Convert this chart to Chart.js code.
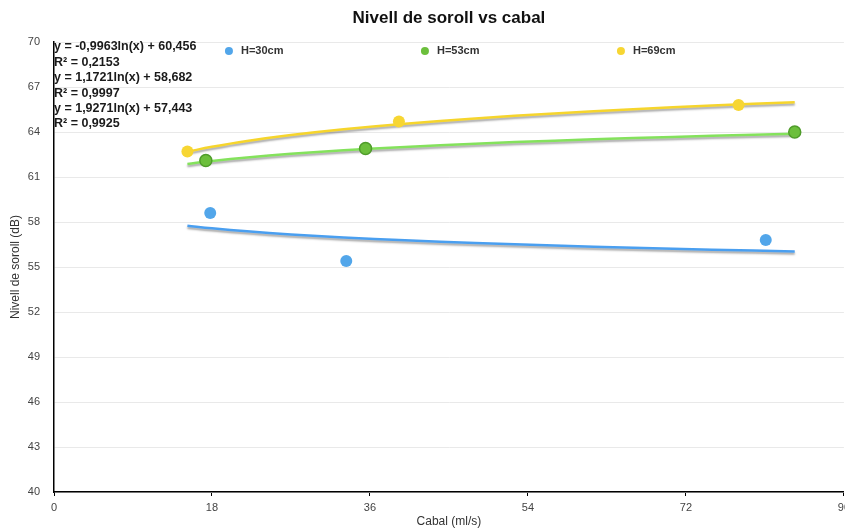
<!DOCTYPE html>
<html>
<head>
<meta charset="utf-8">
<script src="https://cdn.jsdelivr.net/npm/chart.js@4"></script>
<style>
  html, body { margin: 0; padding: 0; background: #fff; overflow: hidden; }
  #wrap { width: 845px; height: 529px; overflow: hidden; }
</style>
</head>
<body>
<div id="wrap"><canvas id="noiseChart" width="855" height="529"></canvas></div>
<script>
// measured points (x = cabal ml/s, y = nivell dB)
const flowH30 = [17.8, 33.3, 81.1];
const noiseH30 = [58.6, 55.4, 56.8];
const flowH53 = [17.3, 35.5, 84.4];
const noiseH53 = [62.1, 62.9, 64.0];
const flowH69 = [15.2, 39.3, 78.0];
const noiseH69 = [62.7, 64.7, 65.8];

const seriesLabels = ['H=30cm', 'H=53cm', 'H=69cm'];

// log trendlines y = a ln(x) + b, as printed on the chart
const trendA = [-0.9963, 1.1721, 1.9271];
const trendB = [60.456, 58.682, 57.443];
const trendR2 = [0.2153, 0.9997, 0.9925];
const trendSampleX = [15.2, 18, 22, 27, 33, 40, 48, 57, 66, 75, 84.4];

const xTicks = [0, 18, 36, 54, 72, 90];
const yTicks = [40, 43, 46, 49, 52, 55, 58, 61, 64, 67, 70];

const chartTitle = 'Nivell de soroll vs cabal';
const FONT = '"Liberation Sans", Arial, Helvetica, sans-serif';

const pointColors = ['#52a6ea', '#6cbf3c', '#f7d633'];
const pointBorders = ['#52a6ea', '#4f9c2a', '#f3d02a'];
const lineColors = ['#4a9ff0', '#84e25c', '#f6d52c'];

const toPoints = (xs, ys) => xs.map((x, i) => ({ x: x, y: ys[i] }));
const trendPoints = i => trendSampleX.map(x => ({ x: x, y: trendA[i] * Math.log(x) + trendB[i] }));
const comma = (v, d) => v.toFixed(d).replace('.', ',');

const pointSets = [toPoints(flowH30, noiseH30), toPoints(flowH53, noiseH53), toPoints(flowH69, noiseH69)];

const datasets = [];
pointSets.forEach((pts, i) => {
  datasets.push({
    label: seriesLabels[i],
    data: pts,
    backgroundColor: pointColors[i],
    borderColor: pointBorders[i],
    borderWidth: i === 1 ? 1.5 : 0,
    pointRadius: 6,
    order: 1
  });
});
pointSets.forEach((pts, i) => {
  datasets.push({
    label: seriesLabels[i] + ' trend',
    data: trendPoints(i),
    showLine: true,
    borderColor: lineColors[i],
    borderWidth: 2.5,
    pointRadius: 0,
    tension: 0.4,
    trend: true,
    order: 2
  });
});

const overlay = {
  id: 'overlay',
  beforeDatasetDraw(chart, args) {
    if (args.meta._dataset.trend) {
      const ctx = chart.ctx;
      ctx.save();
      ctx.shadowColor = 'rgba(0,0,0,0.35)';
      ctx.shadowOffsetY = 2;
      ctx.shadowBlur = 2;
    }
  },
  afterDatasetDraw(chart, args) {
    if (args.meta._dataset.trend) chart.ctx.restore();
  },
  afterDraw(chart) {
    const { ctx, chartArea } = chart;
    const mid = (chartArea.left + chartArea.right) / 2;
    ctx.save();
    ctx.textBaseline = 'middle';

    ctx.font = 'bold 17px ' + FONT;
    ctx.fillStyle = '#111';
    ctx.textAlign = 'center';
    ctx.fillText(chartTitle, mid, 18);

    // legend
    ctx.font = 'bold 11px ' + FONT;
    ctx.textAlign = 'left';
    seriesLabels.forEach((lab, i) => {
      const c = mid + (i - 1) * 196;
      ctx.beginPath();
      ctx.arc(c - 24, 51, 4, 0, Math.PI * 2);
      ctx.fillStyle = pointColors[i];
      ctx.fill();
      ctx.fillStyle = '#333';
      ctx.fillText(lab, c - 12, 51);
    });

    // trendline equations
    ctx.font = 'bold 12.5px ' + FONT;
    ctx.fillStyle = '#1a1a1a';
    let y = 47;
    trendA.forEach((a, i) => {
      const sign = trendB[i] >= 0 ? ' + ' : ' - ';
      ctx.fillText('y = ' + comma(a, 4) + 'ln(x)' + sign + comma(Math.abs(trendB[i]), 3), chartArea.left, y);
      y += 15.4;
      ctx.fillText('R² = ' + comma(trendR2[i], 4), chartArea.left, y);
      y += 15.4;
    });
    ctx.restore();
  }
};

new Chart(document.getElementById('noiseChart'), {
  type: 'scatter',
  data: { datasets: datasets },
  options: {
    responsive: false,
    animation: false,
    layout: { padding: { top: 42, right: 0, left: 0, bottom: 0 } },
    plugins: {
      legend: { display: false },
      title: { display: false },
      tooltip: { enabled: false }
    },
    scales: {
      x: {
        type: 'linear',
        min: 0,
        max: 90,
        afterBuildTicks: s => { s.ticks = xTicks.map(v => ({ value: v })); },
        afterFit: s => { s.height = 37; },
        grid: { color: '#ebebeb', tickColor: '#000', tickLength: 4, drawOnChartArea: false },
        border: { color: '#000', width: 1.5 },
        ticks: { color: '#444', font: { family: FONT, size: 11 }, padding: 5, maxRotation: 0 },
        title: { display: true, text: 'Cabal (ml/s)', color: '#333', font: { family: FONT, size: 12 }, padding: { top: 0, bottom: 0 } }
      },
      y: {
        min: 40,
        max: 70,
        afterBuildTicks: s => { s.ticks = yTicks.map(v => ({ value: v })); },
        afterFit: s => { s.width = 54; s.paddingTop = 0; s.paddingBottom = 0; },
        grid: { color: '#e9e9e9', drawTicks: false },
        border: { color: '#000', width: 1.5 },
        ticks: { color: '#444', font: { family: FONT, size: 11 }, padding: 14 },
        title: { display: true, text: 'Nivell de soroll (dB)', color: '#333', font: { family: FONT, size: 12 }, padding: { top: 8, bottom: 4 } }
      }
    }
  },
  plugins: [overlay]
});
</script>
</body>
</html>
